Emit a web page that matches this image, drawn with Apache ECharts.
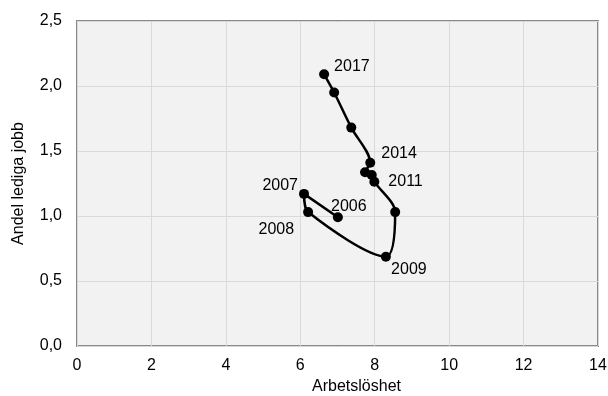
<!DOCTYPE html>
<html>
<head>
<meta charset="utf-8">
<script src="https://cdn.jsdelivr.net/npm/echarts@6/dist/echarts.min.js"></script>
<style>html,body{margin:0;padding:0;background:#fff}#c{width:608px;height:396px}</style>
</head>
<body>
<div id="c"></div>
<script>
var years = ['2006','2007','2008','2009','2010','2011','2012','2013','2014','2015','2016','2017'];
var unemployment = [7.01, 6.10, 6.21, 8.30, 8.55, 7.99, 7.92, 7.74, 7.88, 7.37, 6.91, 6.64];
var vacancies = [0.99, 1.17, 1.03, 0.687, 1.03, 1.264, 1.315, 1.336, 1.41, 1.68, 1.95, 2.09];
var xTicks = [0, 2, 4, 6, 8, 10, 12, 14];
var yTicks = [0, 0.5, 1.0, 1.5, 2.0, 2.5];
var labeledYears = ['2006','2007','2008','2009','2011','2014','2017'];

var labelStyle = {
  '2006': {position: 'top', distance: 0, offset: [11, 2]},
  '2007': {position: 'left', distance: 1, offset: [0, -8]},
  '2008': {position: 'left', distance: 9, offset: [0, 17]},
  '2009': {position: 'bottom', distance: 0, offset: [23, 0]},
  '2011': {position: 'right', distance: 9, offset: [0, 0]},
  '2014': {position: 'right', distance: 6, offset: [0, -9]},
  '2017': {position: 'right', distance: 5, offset: [0, -8]}
};

var font = 'Liberation Sans, Arial, sans-serif';
var fs = 16;

var data = years.map(function (y, i) {
  var d = {value: [unemployment[i], vacancies[i]], name: y};
  if (labeledYears.indexOf(y) >= 0) {
    var s = labelStyle[y];
    d.label = {show: true, formatter: y, position: s.position, offset: s.offset, distance: s.distance,
      color: '#000', fontSize: fs, fontFamily: font};
  }
  return d;
});

var chart = echarts.init(document.getElementById('c'), null, {renderer: 'canvas'});
chart.setOption({
  animation: false,
  backgroundColor: '#fff',
  grid: {left: 77, right: 10, top: 21, bottom: 50, show: true, backgroundColor: '#f2f2f2',
    borderColor: '#898989', borderWidth: 2, containLabel: false, outerBoundsMode: 'none'},
  xAxis: {
    type: 'value', min: xTicks[0], max: xTicks[xTicks.length - 1], interval: 2,
    name: 'Arbetslöshet', nameLocation: 'middle', nameGap: 33,
    nameTextStyle: {color: '#000', fontSize: fs, fontFamily: font, padding: [0, 0, 0, 38]},
    axisLine: {show: false}, axisTick: {show: false},
    axisLabel: {color: '#000', fontSize: fs, fontFamily: font, margin: 12},
    splitLine: {show: true, lineStyle: {color: '#d9d9d9', width: 1}}
  },
  yAxis: {
    type: 'value', min: yTicks[0], max: yTicks[yTicks.length - 1], interval: 0.5,
    name: 'Andel lediga jobb', nameLocation: 'middle', nameGap: 50,
    nameTextStyle: {color: '#000', fontSize: fs, fontFamily: font},
    axisLine: {show: false}, axisTick: {show: false},
    axisLabel: {color: '#000', fontSize: fs, fontFamily: font, margin: 15, padding: [5, 0, 0, 0],
      formatter: function (v) { return v.toFixed(1).replace('.', ','); }},
    splitLine: {show: true, lineStyle: {color: '#d9d9d9', width: 1}}
  },
  series: [{
    type: 'line',
    data: data,
    smooth: 0.3,
    symbol: 'circle',
    symbolSize: 10,
    itemStyle: {color: '#000'},
    lineStyle: {color: '#000', width: 2.5}
  }]
});
</script>
</body>
</html>
